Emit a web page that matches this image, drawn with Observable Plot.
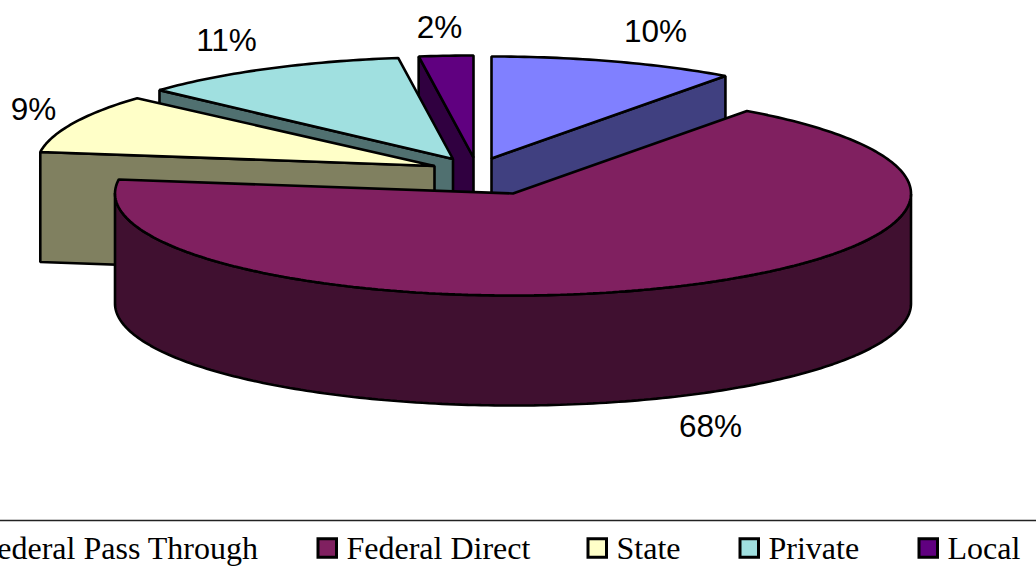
<!DOCTYPE html>
<html>
<head>
<meta charset="utf-8">
<style>html,body{margin:0;padding:0;background:#fff;overflow:hidden}</style>
<script src="https://cdn.jsdelivr.net/npm/d3@7"></script>
<script src="https://cdn.jsdelivr.net/npm/@observablehq/plot@0.6"></script>
</head>
<body>
<div id="chart"></div>
<script>
// Data
const categories = ["Federal Pass Through", "Federal Direct", "State", "Private", "Local"];
const percentLabels = [10, 68, 9, 11, 2];
// Slice sizes as drawn (percent of the full turn), clockwise from 12 o'clock
const drawnShares = [10, 67.2, 9.6, 11, 2.2];

// Styles
const topColors = ["#8080FF", "#802060", "#FFFFC8", "#A0E0E0", "#600080"];
const wallColors = ["#404080", "#401030", "#808060", "#507070", "#300040"];

// Layout of the tilted pie (in chart units = px)
const radiusX = 398, radiusY = 102, depth = 110;
const apexX = [491, 512.5, 434, 452.5, 473];
const apexY = [158, 193, 165.5, 158.5, 157];
const endTrimDeg = [0, 0, 0.8, 0, 0];
const labelX = [655, 710, 33, 226, 439];
const labelY = [31, 426, 109, 40, 27];
const legendTextX = [-21, 346, 616, 768, 947];
const legendLineY = 520, legendBaseY = 548, swatchSize = 18.5;
const paintOrder = [4, 3, 2, 0, 1];

let acc = 0;
const slices = drawnShares.map((s, i) => {
  const a0 = acc * 3.6 * Math.PI / 180;
  acc += s;
  const a1 = (acc * 3.6 - endTrimDeg[i]) * Math.PI / 180;
  const pts = [{x: apexX[i], y: apexY[i]}];
  const n = Math.max(4, Math.ceil((a1 - a0) * 60));
  for (let k = 0; k <= n; k++) {
    const a = a0 + (a1 - a0) * k / n;
    pts.push({x: apexX[i] + radiusX * Math.sin(a), y: apexY[i] - radiusY * Math.cos(a)});
  }
  return {i, pts};
});

const face = (pts, fill) => Plot.line(pts, {
  x: "x", y: "y", fill, stroke: "#000", strokeWidth: 2.6,
  curve: "linear-closed", strokeLinejoin: "miter"
});

const marks = [];
for (const idx of paintOrder) {
  const {pts} = slices[idx];
  const closed = [...pts, pts[0]];
  // walls below every top edge that runs right-to-left in clockwise order
  let run = [];
  const flush = () => {
    if (run.length > 1) {
      const low = run.map(p => ({x: p.x, y: p.y + depth})).reverse();
      marks.push(face([...run, ...low], wallColors[idx]));
    }
    run = [];
  };
  for (let k = 0; k < closed.length - 1; k++) {
    const p = closed[k], q = closed[k + 1];
    if (q.x < p.x - 1e-6) {
      if (!run.length) run.push(p);
      run.push(q);
    } else flush();
  }
  flush();
  marks.push(face(pts, topColors[idx]));
}

// Percent labels
marks.push(Plot.text(percentLabels.map((v, i) => ({t: v + "%", x: labelX[i], y: labelY[i]})), {
  x: "x", y: "y", text: "t", fontFamily: "Liberation Sans", fontSize: 31.5, fill: "#000"
}));

// Legend
marks.push(Plot.ruleY([legendLineY], {stroke: "#222", strokeWidth: 1.5}));
categories.forEach((c, i) => {
  const x2 = legendTextX[i] - 9.5;
  marks.push(Plot.rect([c], {
    x1: () => x2 - swatchSize, x2: () => x2,
    y1: () => legendBaseY - swatchSize / 2, y2: () => legendBaseY + swatchSize / 2,
    fill: topColors[i], stroke: "#000", strokeWidth: 3, inset: 0
  }));
});
marks.push(Plot.text(categories.map((c, i) => ({c, x: legendTextX[i]})), {
  x: "x", y: () => legendBaseY, text: "c", textAnchor: "start",
  fontFamily: "Liberation Serif", fontSize: 32, fill: "#000"
}));

const chart = Plot.plot({
  width: 1036, height: 569,
  margin: 0,
  x: {domain: [0, 1036], range: [0, 1036], axis: null},
  y: {domain: [0, 569], range: [0, 569], axis: null},
  marks
});
document.getElementById("chart").appendChild(chart);
</script>
</body>
</html>
